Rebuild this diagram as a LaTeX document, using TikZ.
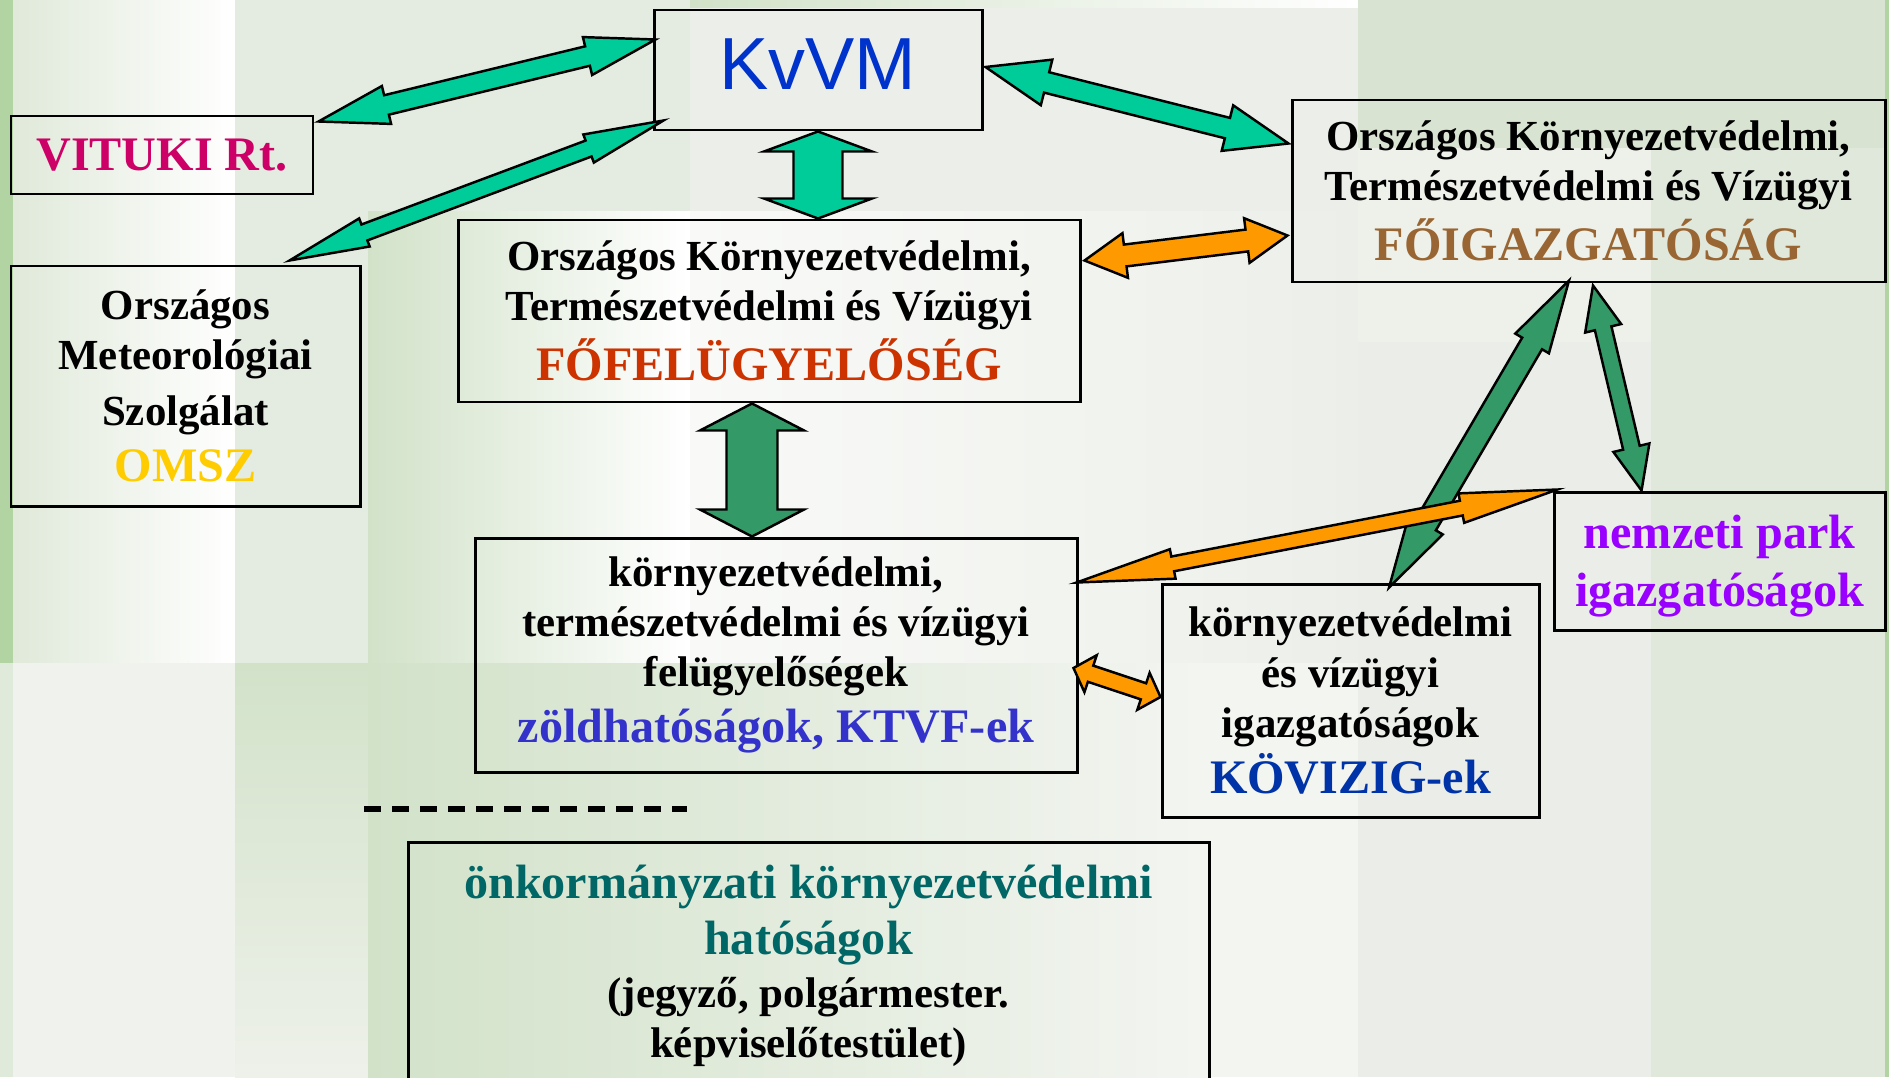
\documentclass[tikz,border=0pt]{standalone}
\usepackage{fontspec}
\setmainfont{Liberation Serif}
\newfontfamily\arialfont{Liberation Sans}
\usetikzlibrary{calc}

\definecolor{kvblue}{HTML}{0033CC}
\definecolor{vitred}{HTML}{CC0066}
\definecolor{omszyellow}{HTML}{FFCC00}
\definecolor{ffred}{HTML}{CC3300}
\definecolor{fibrown}{HTML}{996633}
\definecolor{ktblue}{HTML}{3333CC}
\definecolor{kovblue}{HTML}{0033A8}
\definecolor{npviolet}{HTML}{9900FF}
\definecolor{onkteal}{HTML}{006666}
\definecolor{arrteal}{HTML}{00CC99}
\definecolor{arrgreen}{HTML}{339966}
\definecolor{arrorange}{HTML}{FF9900}
% background colours
\definecolor{bgbase}{HTML}{E6ECE2}
\definecolor{bgstrip}{HTML}{B2D3A2}
\definecolor{bglight}{HTML}{E0EADB}
\definecolor{bgpale}{HTML}{E0E9DA}
\definecolor{bgpaler}{HTML}{EFF2ED}
\definecolor{bgmid}{HTML}{E4EBE0}
\definecolor{bggreen}{HTML}{D2E2C9}
\definecolor{bgfade}{HTML}{EEF1EA}
\definecolor{bggrey}{HTML}{ECEFE9}
\definecolor{bgwhite}{HTML}{F9FAF8}
\definecolor{bgend}{HTML}{F3F5F1}
\definecolor{bgright}{HTML}{D8E3D1}
\definecolor{bgrightb}{HTML}{E0E8DC}
\definecolor{bgrightc}{HTML}{EBEEE8}

\newcommand{\colline}[2]{{\color{#1}\fontsize{13.7}{14.3}\selectfont #2}}
% block arrow with a head at both ends: colour, from, to, shaft, head, head length
\newcommand{\twoway}[6]{%
\draw[arrowline, fill=#1] (#2) -- ($(#2)!#6!(#3)!#5!90:(#3)$) -- ($(#2)!#6!(#3)!#4!90:(#3)$)
 -- ($(#3)!#6!(#2)!#4!-90:(#2)$) -- ($(#3)!#6!(#2)!#5!-90:(#2)$) -- (#3)
 -- ($(#3)!#6!(#2)!#5!90:(#2)$) -- ($(#3)!#6!(#2)!#4!90:(#2)$)
 -- ($(#2)!#6!(#3)!#4!-90:(#3)$) -- ($(#2)!#6!(#3)!#5!-90:(#3)$) -- cycle;}

\begin{document}
\begin{tikzpicture}[scale=1.0,
  box/.style={draw, line width=0.85pt, inner sep=0pt, align=center,
    font=\bfseries\fontsize{12.2}{14.3}\selectfont},
  arrowline/.style={draw=black, line width=0.7pt},
  sep/.style={line width=1.55pt, dash pattern=on 0.17cm off 0.11cm}]
\useasboundingbox (0,0) rectangle (18.89,-10.77);
%
% background
\fill[bgbase] (0,0) rectangle (18.89,-10.77);
\fill[bgstrip] (0,0) rectangle (0.13,-6.63);
\fill[bglight] (0,-6.63) rectangle (0.13,-10.77);
\shade[left color=bgpale, right color=white] (0.13,0) rectangle (2.35,-6.63);
\fill[bgpaler] (0.13,-6.63) rectangle (2.35,-10.77);
\fill[bgmid] (2.35,0) rectangle (3.68,-6.63);
\shade[top color=bggreen, bottom color=bgfade] (2.35,-6.63) rectangle (3.68,-10.77);
\fill[bgmid] (3.68,0) rectangle (6.90,-2.11);
\shade[left color=bggreen, right color=white] (3.68,-2.11) rectangle (6.90,-6.63);
\shade[left color=bggreen, right color=white] (6.90,0) rectangle (13.58,-0.08);
\fill[bggrey] (6.90,-0.08) rectangle (13.58,-2.11);
\shade[left color=bgwhite, right color=bggrey] (6.90,-2.11) rectangle (13.58,-6.63);
\shade[left color=bggreen, right color=bgend] (3.68,-6.63) rectangle (12.09,-10.77);
\fill[bgend] (12.09,-6.63) rectangle (13.58,-10.77);
\fill[bgright] (13.58,0) rectangle (18.85,-1.48);
\fill[bgfade] (13.58,-1.48) rectangle (16.51,-3.42);
\fill[bgrightc] (13.58,-3.42) rectangle (16.51,-10.77);
\fill[bgrightb] (16.51,-1.48) rectangle (18.85,-10.77);
\fill[bgstrip] (18.85,0) rectangle (18.89,-10.77);

% boxes
\node[box, minimum width=3.28cm, minimum height=1.20cm, text depth=0.11cm] (kvvm) at (8.18,-0.70)
  {\arialfont\mdseries\fontsize{21}{25}\selectfont\color{kvblue}KvVM};
\node[box, minimum width=3.02cm, minimum height=0.78cm] (vituki) at (1.62,-1.55)
  {\colline{vitred}{VITUKI Rt.}};
\node[box, minimum width=3.49cm, minimum height=2.40cm] (omsz) at (1.855,-3.86)
  {Országos\\ Meteorológiai\\[1.6pt] Szolgálat\\[1.6pt] \colline{omszyellow}{OMSZ}};
\node[box, minimum width=6.22cm, minimum height=1.82cm] (okf) at (7.69,-3.11)
  {Országos Környezetvédelmi,\\ Természetvédelmi és Vízügyi\\[1.6pt] \colline{ffred}{FŐFELÜGYELŐSÉG}};
\node[box, minimum width=5.93cm, minimum height=1.82cm] (ofig) at (15.885,-1.91)
  {Országos Környezetvédelmi,\\ Természetvédelmi és Vízügyi\\[1.6pt] \colline{fibrown}{FŐIGAZGATÓSÁG}};
\node[box, minimum width=6.02cm, minimum height=2.34cm] (ktvf) at (7.76,-6.55)
  {környezetvédelmi,\\ természetvédelmi és vízügyi\\ felügyelőségek\\[1.6pt] \colline{ktblue}{zöldhatóságok, KTVF-ek}};
\node[box, minimum width=3.77cm, minimum height=2.33cm] (kovizig) at (13.505,-7.005)
  {környezetvédelmi\\ és vízügyi\\ igazgatóságok\\[1.6pt] \colline{kovblue}{KÖVIZIG-ek}};
\node[box, minimum width=3.31cm, minimum height=1.38cm, text=npviolet, text depth=0pt,
  font=\bfseries\fontsize{13.7}{16.5}\selectfont] (npi) at (17.195,-5.61)
  {nemzeti park\\ igazgatóságok};
\node[box, minimum width=8.01cm, minimum height=2.48cm] (onk) at (8.085,-9.66)
  {\colline{onkteal}{önkormányzati környezetvédelmi}\\[1.6pt] \colline{onkteal}{hatóságok}\\[0.8pt]
   (jegyző, polgármester.\\ képviselőtestület)};

% arrow ends
\coordinate (vitA) at ($(vituki.north east)+(0.04,-0.07)$);
\coordinate (kvA) at ($(kvvm.north west)+(0.03,-0.31)$);
\coordinate (omA) at ($(omsz.north east)+(-0.72,0.04)$);
\coordinate (kvB) at ($(kvvm.south west)+(0.11,0.11)$);
\coordinate (kvC) at ($(kvvm.east)+(0.02,0.03)$);
\coordinate (ofA) at ($(ofig.north west)+(-0.02,-0.45)$);
\coordinate (kvD) at (kvvm.south);
\coordinate (okA) at (kvvm.south |- okf.north);
\coordinate (okB) at ($(okf.north east)+(0.03,-0.42)$);
\coordinate (ofB) at ($(ofig.south west)+(-0.03,0.48)$);
\coordinate (okC) at ($(okf.south)+(-0.17,0)$);
\coordinate (ktA) at (okC |- ktvf.north);
\coordinate (ofC) at ($(ofig.south)+(-0.195,0.03)$);
\coordinate (kovA) at ($(kovizig.north)+(0.385,-0.05)$);
\coordinate (ofD) at ($(ofig.south)+(0.045,-0.02)$);
\coordinate (npA) at ($(npi.north west)+(0.89,0)$);
\coordinate (ktB) at ($(ktvf.north east)+(-0.02,-0.46)$);
\coordinate (npB) at ($(npi.north west)+(0.05,0.01)$);
\coordinate (ktC) at ($(ktvf.east)+(-0.05,-0.13)$);
\coordinate (kovB) at ($(kovizig.west)+(0,0.035)$);

% KvVM arrows
\foreach \a/\b/\s/\h/\l in {vitA/kvA/0.10cm/0.195cm/0.70cm, omA/kvB/0.085cm/0.15cm/0.80cm,
  kvC/ofA/0.105cm/0.235cm/0.63cm, kvD/okA/0.245cm/0.54cm/0.20cm} {
\twoway{arrteal}{\a}{\b}{\s}{\h}{\l}
}
% dark green arrows
\foreach \a/\b/\s/\h/\l in {okC/ktA/0.255cm/0.52cm/0.27cm, ofC/kovA/0.115cm/0.195cm/0.73cm,
  ofD/npA/0.085cm/0.185cm/0.44cm} {
\twoway{arrgreen}{\a}{\b}{\s}{\h}{\l}
}
% orange arrows
\foreach \a/\b/\s/\h/\l in {okB/ofB/0.11cm/0.225cm/0.41cm, ktB/npB/0.075cm/0.15cm/0.98cm,
  ktC/kovB/0.085cm/0.195cm/0.18cm} {
\twoway{arrorange}{\a}{\b}{\s}{\h}{\l}
}

% separator
\draw[sep] (3.64,-8.09) -- (6.87,-8.09);
\end{tikzpicture}
\end{document}
